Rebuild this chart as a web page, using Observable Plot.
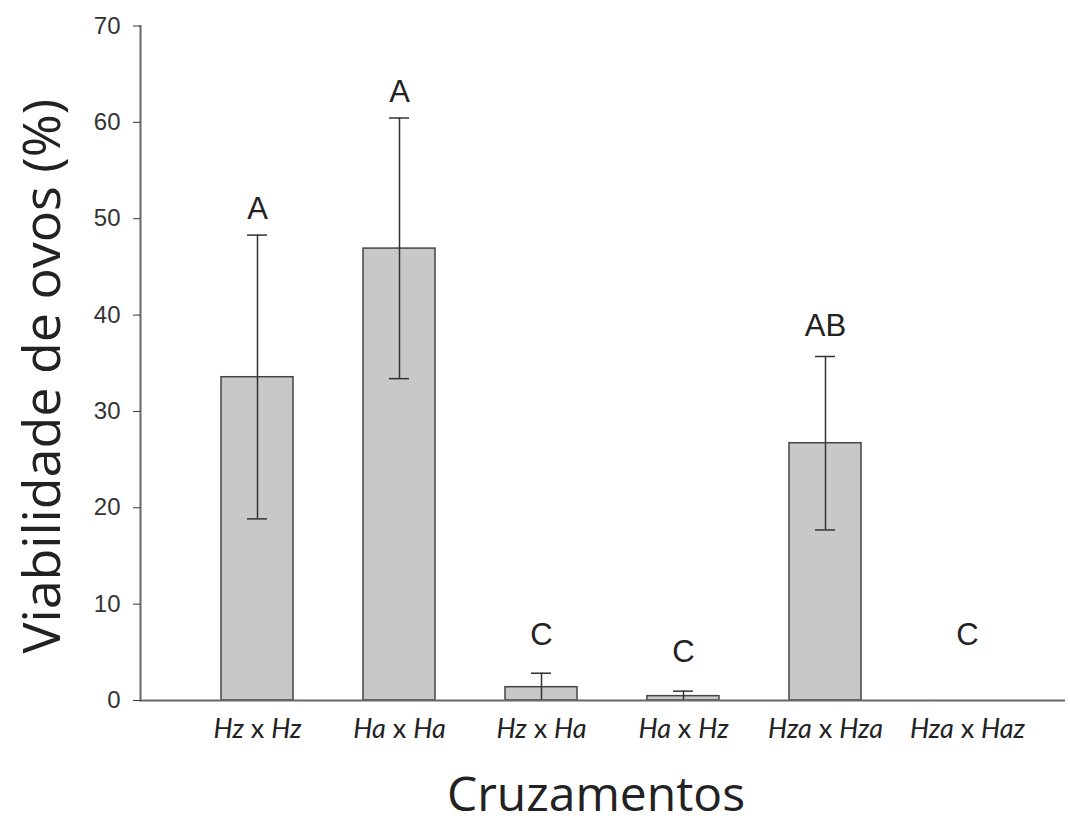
<!DOCTYPE html>
<html><head><meta charset="utf-8">
<script src="https://cdn.jsdelivr.net/npm/d3@7"></script>
<script src="https://cdn.jsdelivr.net/npm/@observablehq/plot@0.6"></script>
<style>body{margin:0;background:#fff}</style>
</head><body><div id="chart"></div>
<script>
const categories = ["Hz x Hz","Ha x Ha","Hz x Ha","Ha x Hz","Hza x Hza","Hza x Haz"];
const femaleParent = ["Hz","Ha","Hz","Ha","Hza","Hza"];
const maleParent = ["Hz","Ha","Ha","Hz","Hza","Haz"];
const means = [33.55, 46.9, 1.38, 0.45, 26.7, 0];
const errLow = [18.85, 33.4, 0, 0, 17.7, null];
const errHigh = [48.3, 60.45, 2.83, 0.97, 35.7, null];
const letters = ["A","A","C","C","AB","C"];
const letterY = [51.0, 63.1, 6.8, 5.0, 38.9, 6.75];
const yTicks = [0,10,20,30,40,50,60,70];

const data = categories.map((c,i)=>({cat:c, mean:means[i], low:errLow[i], high:errHigh[i], letter:letters[i], ly:letterY[i]}));
const withErr = data.filter(d=>d.high!=null);

const chart = Plot.plot({
  width: 1070, height: 824,
  marginLeft: 140, marginRight: 5, marginTop: 25.5, marginBottom: 124,
  style: {background: "#fff"},
  x: {type: "band", domain: categories, paddingInner: 0.494, paddingOuter: 0.5, align: 0.563, label: null},
  y: {domain: [0,70], label: null},
  marks: [
    Plot.barY(data.filter(d=>d.mean>0), {x:"cat", y:"mean", fill:"#c8c8c8", stroke:"#444", strokeWidth:1.5}),
    Plot.ruleX(withErr, {x:"cat", y1:"low", y2:"high", stroke:"#333", strokeWidth:1.5}),
    Plot.tickY(withErr, {x:"cat", y:"high", stroke:"#333", strokeWidth:1.5, insetLeft:26, insetRight:26}),
    Plot.tickY(withErr.filter(d=>d.low>0), {x:"cat", y:"low", stroke:"#333", strokeWidth:1.5, insetLeft:26, insetRight:26}),
    Plot.ruleY([0], {stroke:"#666", strokeWidth:2}),
    Plot.frame({anchor:"left", stroke:"#666", strokeWidth:2}),
    Plot.axisY(yTicks, {tickSize:7, tickPadding:13, fontSize:24, fontFamily:"Liberation Sans, Arial, sans-serif", color:"#333", label:null}),
    Plot.axisX({tickSize:0, tickPadding:18, fontSize:27, fontFamily:"Lato, sans-serif", color:"#222", label:null}),
    Plot.text(data, {x:"cat", y:"ly", text:"letter", fontSize:31, fontFamily:"Liberation Sans, Arial, sans-serif", fill:"#222", lineAnchor:"middle"}),
    Plot.text(["Viabilidade de ovos (%)"], {frameAnchor:"left", textAnchor:"middle", lineAnchor:"middle", text:d=>d, rotate:-90, dx:-97, dy:13, fontSize:52, fontFamily:"Open Sans, sans-serif", fill:"#222"}),
    Plot.text(["Cruzamentos"], {frameAnchor:"bottom", textAnchor:"middle", lineAnchor:"middle", text:d=>d, dx:-7, dy:95, fontSize:48, fontFamily:"Open Sans, sans-serif", fill:"#222"})
  ]
});
document.getElementById("chart").appendChild(chart);

// italicize genus names in x tick labels
d3.select(chart).selectAll('g[aria-label="x-axis tick label"] text').each(function(){
  const label = this.textContent.trim();
  const idx = categories.indexOf(label);
  if (idx < 0) return;
  const t = d3.select(this);
  t.text(null);
  t.append("tspan").attr("font-style","italic").text(femaleParent[idx]);
  t.append("tspan").text(" x ");
  t.append("tspan").attr("font-style","italic").text(maleParent[idx]);
});
</script>
</body></html>
